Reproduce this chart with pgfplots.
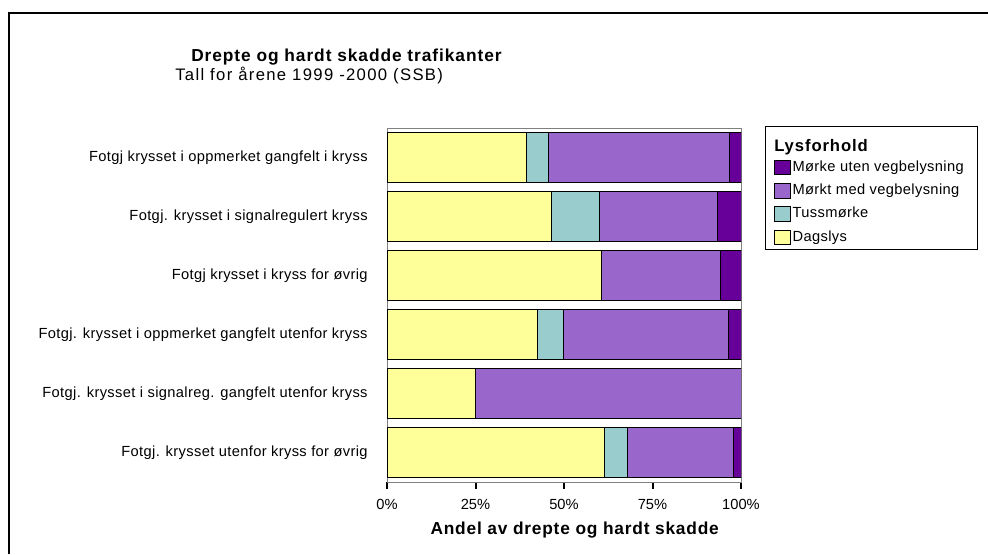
\documentclass[border=0pt]{standalone}
\usepackage{pgfplots}
\pgfplotsset{compat=1.18}
\usepackage{fontspec}
\setmainfont{Liberation Sans}
\newfontfamily\lsA[LetterSpace=5.4]{Liberation Sans}
\newfontfamily\lsB[LetterSpace=8]{Liberation Sans}
\newfontfamily\lsC[LetterSpace=2.5]{Liberation Sans}
\newfontfamily\lsD[LetterSpace=4.5]{Liberation Sans}
\definecolor{dags}{HTML}{FFFF99}
\definecolor{tuss}{HTML}{99CCCC}
\definecolor{mvb}{HTML}{9966CC}
\definecolor{muv}{HTML}{660099}
\begin{document}
\begin{tikzpicture}[x=1pt,y=1pt]
\useasboundingbox (0,0) rectangle (741,415.5);
\draw[line width=1.5pt] (6.75,0) -- (6.75,405.75) -- (741,405.75);
\node[anchor=west,inner sep=0pt,font=\lsA\fontsize{13}{15}\selectfont\bfseries] at (143.25,372.75) {Drepte og hardt skadde trafikanter};
\node[anchor=west,inner sep=0pt,font=\lsB\fontsize{12.5}{15}\selectfont] at (131.25,358.5) {Tall for årene 1999 -2000 (SSB)};
\begin{axis}[
  at={(290.25pt,54pt)}, anchor=south west,
  width=265.5pt, height=265.5pt, scale only axis,
  xbar stacked, bar width=37.5pt,
  xmin=0, xmax=100, ymin=-0.5, ymax=5.5, y dir=reverse,
  ytick={0,1,2,3,4,5},
  yticklabels={Fotgj krysset i oppmerket gangfelt i kryss,
    Fotgj. krysset i signalregulert kryss,
    Fotgj krysset i kryss for øvrig,
    Fotgj. krysset i oppmerket gangfelt utenfor kryss,
    Fotgj. krysset i signalreg. gangfelt utenfor kryss,
    Fotgj. krysset utenfor kryss for øvrig},
  yticklabel style={font=\lsC\fontsize{11}{13}\selectfont, xshift=-6pt},
  ytick style={draw=none},
  xtick={0,25,50,75,100},
  xticklabels={0\%,25\%,50\%,75\%,100\%},
  xticklabel style={font=\fontsize{11}{13}\selectfont, yshift=-4.5pt},
  xtick pos=lower, tick align=outside,
  xtick style={black, line width=1.5pt},
  major tick length=5pt,
  axis line style={draw=gray},
  xlabel={Andel av drepte og hardt skadde},
  every axis x label/.style={at={(axis description cs:0.5,0)}, xshift=8pt, yshift=-36pt, anchor=center, font=\lsD\fontsize{13}{15}\selectfont\bfseries},
  reverse legend,
  legend style={at={(1.0932,0.913)}, anchor=north west, draw=none, fill=none,
    inner sep=0pt, row sep=5pt,
    nodes={inner sep=1pt, text height=8pt, text depth=2.5pt, font=\lsC\fontsize{11}{13}\selectfont}},
  legend cell align=left,
  legend image code/.code={\draw[#1,draw=black,line width=0.75pt] (0pt,-5.5pt) rectangle (12pt,5.5pt);},
  every axis plot/.append style={draw=black, line width=0.75pt},
]
\addplot[fill=dags] coordinates {(39.5,0) (46.4,1) (60.7,2) (42.6,3) (25.0,4) (61.4,5)};
\addlegendentry{Dagslys}
\addplot[fill=tuss] coordinates {(6.0,0) (13.6,1) (0,2) (7.3,3) (0,4) (6.6,5)};
\addlegendentry{Tussmørke}
\addplot[fill=mvb] coordinates {(51.3,0) (33.3,1) (33.4,2) (46.6,3) (75.0,4) (29.8,5)};
\addlegendentry{Mørkt med vegbelysning}
\addplot[fill=muv] coordinates {(3.2,0) (6.7,1) (5.9,2) (3.5,3) (0,4) (2.2,5)};
\addlegendentry{Mørke uten vegbelysning}
\end{axis}
\draw[line width=0.75pt] (573.75,228) rectangle (732.75,320.25);
\node[anchor=west,inner sep=0pt,font=\lsA\fontsize{12.5}{15}\selectfont\bfseries] at (580.5,305.25) {Lysforhold};
\end{tikzpicture}
\end{document}
